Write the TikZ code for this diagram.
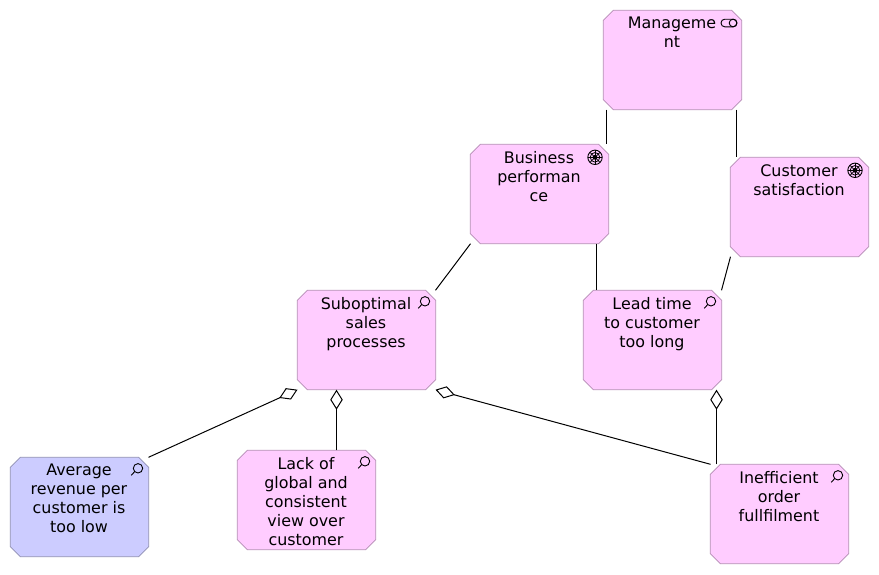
\documentclass[tikz,border=0pt]{standalone}
\usepackage{fontspec}
\setmainfont{DejaVu Sans}
\usepackage{tikz}
\usetikzlibrary{
  arrows.meta,
}
\definecolor{stratFill}{HTML}{FFCCFF}
\definecolor{stratLine}{HTML}{B48CB4}
\definecolor{valueFill}{HTML}{CCCCFF}
\definecolor{valueLine}{HTML}{8F8FB3}
\tikzset{
  x=1pt, y=1pt,
  archbox/.style 2 args={
    rectangle, minimum width=138pt, minimum height=99pt, inner sep=0pt,
    append after command={\pgfextra{
      \draw[draw=#1, fill=#2, line width=0.8pt]
        ([xshift=10pt]\tikzlastnode.north west)
        -- ([xshift=-10pt]\tikzlastnode.north east)
        -- ([yshift=-10pt]\tikzlastnode.north east)
        -- ([yshift=10pt]\tikzlastnode.south east)
        -- ([xshift=-10pt]\tikzlastnode.south east)
        -- ([xshift=10pt]\tikzlastnode.south west)
        -- ([yshift=10pt]\tikzlastnode.south west)
        -- ([yshift=-10pt]\tikzlastnode.north west) -- cycle;
    }},
  },
  boxtext/.style={
    anchor=north, inner sep=0pt, align=center, xshift=-0.5pt, yshift=-6.8pt,
    font=\fontsize{15.9}{19}\selectfont,
    execute at begin node={\rule{0pt}{13pt}},
  },
  assoc/.style={line width=1pt, draw=black},
  aggr/.style={
    -{Diamond[open,length=20pt,width=12.5pt]}, line width=1pt, draw=black,
  },
  lens/.pic={
    \draw[line width=0.9pt] (0,0) circle (4.7);
    \draw[line width=0.9pt] (-3.3,-3.3) -- (-6.8,-7);
  },
  pill/.pic={
    \draw[line width=0.9pt, rounded corners=3.7pt] (-8,-3.8) rectangle (8,3.8);
    \draw[line width=0.9pt] (4,0) circle (3.8);
  },
  wheel/.pic={
    \draw[line width=0.9pt] (0,0) circle (7.2);
    \draw[line width=0.8pt] (0,0) circle (4.8);
    \fill (0,0) circle (2.4);
    \foreach \a in {0,45,...,315} {
      \draw[line width=0.7pt] (\a:2) -- (\a:7);
    }
  },
}

\begin{document}
\begin{tikzpicture}
\useasboundingbox (0,0) rectangle (879,-574);
% boxes
\node[archbox={stratLine}{stratFill}] (mgmt) at (672.5,-60) {};
\node[archbox={stratLine}{stratFill}] (biz) at (539.5,-194) {};
\node[archbox={stratLine}{stratFill}] (cust) at (799.5,-207) {};
\node[archbox={stratLine}{stratFill}] (subopt) at (366.5,-340) {};
\node[archbox={stratLine}{stratFill}] (lead) at (652.5,-340) {};
\node[archbox={valueLine}{valueFill}] (avg) at (79.5,-507) {};
\node[archbox={stratLine}{stratFill}] (lack) at (306.5,-500) {};
\node[archbox={stratLine}{stratFill}] (ineff) at (779.5,-514) {};
% labels
\node[boxtext] (mgmtText) at (mgmt.north) {Manageme\\nt};
\node[boxtext] (bizText) at (biz.north) {Business\\performan\\ce};
\node[boxtext] (custText) at (cust.north) {Customer\\satisfaction};
\node[boxtext] (suboptText) at (subopt.north) {Suboptimal\\sales\\processes};
\node[boxtext] (leadText) at (lead.north) {Lead time\\to customer\\too long};
\node[boxtext] (avgText) at (avg.north) {Average\\revenue per\\customer is\\too low};
\node[boxtext] (lackText) at (lack.north) {Lack of\\global and\\consistent\\view over\\customer};
\node[boxtext] (ineffText) at (ineff.north) {Inefficient\\order\\fullfilment};
% icons
\pic at ([xshift=56.5pt,yshift=-12.7pt]mgmt.north) {pill};
\pic at ([xshift=55.5pt,yshift=-13pt]biz.north) {wheel};
\pic at ([xshift=55.5pt,yshift=-13pt]cust.north) {wheel};
\foreach \n in {subopt,lead,avg,lack,ineff} {
  \pic at ([xshift=58.5pt,yshift=-11pt]\n.north) {lens};
}
% connectors
\draw[assoc] ([xshift=-66pt]mgmt.south) -- ([xshift=67pt]biz.north);
\draw[assoc] ([xshift=64pt]mgmt.south) -- ([xshift=-63pt]cust.north);
\draw[assoc] ([xshift=-69pt]biz.south) -- ([xshift=69pt]subopt.north);
\draw[assoc] ([xshift=57pt]biz.south) -- ([xshift=-56pt]lead.north);
\draw[assoc] ([xshift=-69pt]cust.south) -- ([xshift=69pt]lead.north);
\draw[aggr] ([xshift=69pt]avg.north) -- ([xshift=-69pt]subopt.south);
\draw[aggr] ([xshift=30pt]lack.north) -- ([xshift=-30pt]subopt.south);
\draw[aggr] ([xshift=-69pt]ineff.north) -- ([xshift=69pt]subopt.south);
\draw[aggr] ([xshift=-63pt]ineff.north) -- ([xshift=64pt]lead.south);
\end{tikzpicture}
\end{document}
